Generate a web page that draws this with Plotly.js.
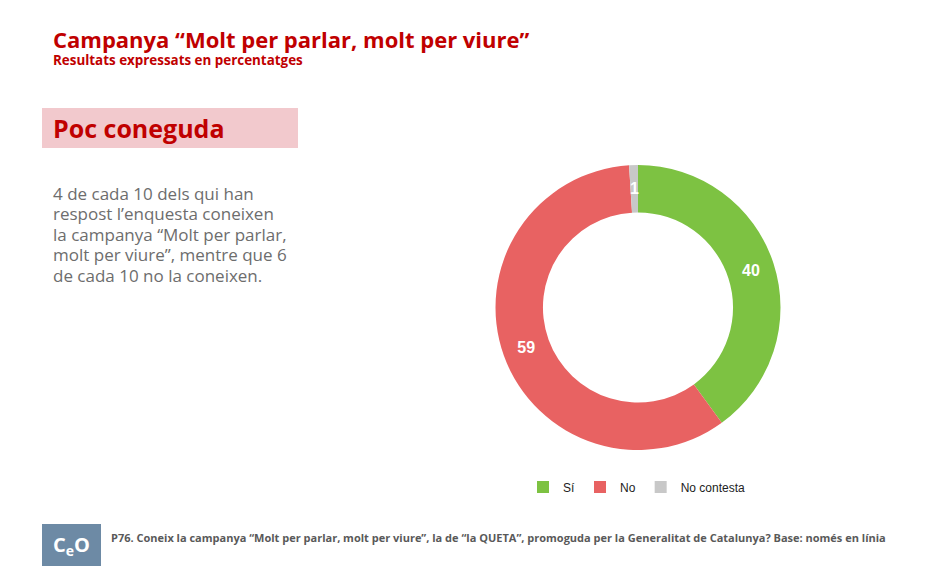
<!DOCTYPE html>
<html><head><meta charset="utf-8">
<script src="https://cdn.plot.ly/plotly-3.0.1.min.js"></script>
<style>html,body{margin:0;padding:0;background:#fff}</style>
</head><body>
<div id="chart" style="width:940px;height:588px"></div>
<script>
const labels = ["Sí", "No", "No contesta"];
const values = [40, 59, 1];
const colors = ["#7dc242", "#e86262", "#c8c8c8"];
const title = "Campanya “Molt per parlar, molt per viure”";
const subtitle = "Resultats expressats en percentatges";
const headline = "Poc coneguda";
const bodyLines = ["4 de cada 10 dels qui han", "respost l’enquesta coneixen", "la campanya “Molt per parlar,", "molt per viure”, mentre que 6", "de cada 10 no la coneixen."];
const footnote = "P76. Coneix la campanya “Molt per parlar, molt per viure”, la de “la QUETA”, promoguda per la Generalitat de Catalunya? Base: només en línia";

const W = 940, H = 588;
const px = x => x / W, py = y => 1 - y / H;

// donut geometry (pixels)
const CX = 638, CY = 307.5, R = 142.5, HOLE = 0.667;

const trace = {
  type: "pie", labels: labels, values: values, sort: false,
  direction: "clockwise", rotation: 0, hole: HOLE,
  marker: {colors: colors, line: {width: 0}},
  texttemplate: values.map(v => v >= 5 ? "%{value}" : ""),
  textposition: "inside", insidetextorientation: "horizontal",
  textfont: {family: "Liberation Sans, Arial", size: 16, color: "#ffffff", weight: "bold"},
  domain: {x: [px(CX - R), px(CX + R)], y: [py(CY + R), py(CY - R)]},
  hoverinfo: "label+value"
};

function A(text, x, y, size, color, extra) {
  return Object.assign({text: text, xref: "paper", yref: "paper", x: px(x), y: py(y),
    xanchor: "left", yanchor: "middle", showarrow: false, align: "left",
    font: {family: "Open Sans", size: size, color: color}}, extra || {});
}

const ann = [
  A("<b>" + title + "</b>", 51, 39, 22, "#c00000"),
  A("<b>" + subtitle + "</b>", 51, 60, 13.4, "#c00000"),
  A("<b>" + headline + "</b>", 51, 128, 25, "#c00000"),
  A("<b>" + footnote + "</b>", 109, 537, 11, "#595959"),
  A("<b>C<sub>e</sub>O</b>", 71, 545, 20, "#ffffff", {xanchor: "center"})
];
bodyLines.forEach((l, i) => ann.push(A(l, 51, 193 + i * 20.6, 17, "#6d6d6d")));

// labels for slices too narrow for Plotly's inside text, placed at the slice's mid-angle on the ring
const total = values.reduce((a, b) => a + b, 0);
let cum = 0;
values.forEach((v, i) => {
  const mid = (cum + v / 2) / total * 2 * Math.PI;
  cum += v;
  if (v < 5) {
    const rm = R * (1 + HOLE) / 2;
    ann.push({text: "<b>" + v + "</b>", xref: "paper", yref: "paper",
      x: px(CX + rm * Math.sin(mid)), y: py(CY - rm * Math.cos(mid)),
      xanchor: "center", yanchor: "middle", showarrow: false,
      font: {family: "Liberation Sans, Arial", size: 16, color: "#ffffff"}});
  }
});

const shapes = [
  {type: "rect", xref: "paper", yref: "paper", x0: px(42), x1: px(298), y0: py(148), y1: py(108),
   fillcolor: "#f2c9cd", line: {width: 0}, layer: "below"},
  {type: "rect", xref: "paper", yref: "paper", x0: px(42), x1: px(101), y0: py(566), y1: py(524),
   fillcolor: "#6d8aa5", line: {width: 0}, layer: "below"}
];

const layout = {
  width: W, height: H, margin: {l: 0, r: 0, t: 0, b: 0},
  paper_bgcolor: "#ffffff", plot_bgcolor: "#ffffff",
  showlegend: true,
  legend: {orientation: "h", x: px(637), xanchor: "center", y: py(487), yanchor: "middle",
           font: {family: "Liberation Sans, Arial", size: 12, color: "#222"}, itemwidth: 30, traceorder: "normal"},
  annotations: ann, shapes: shapes
};
Plotly.newPlot("chart", [trace], layout, {displayModeBar: false});
</script>
</body></html>
